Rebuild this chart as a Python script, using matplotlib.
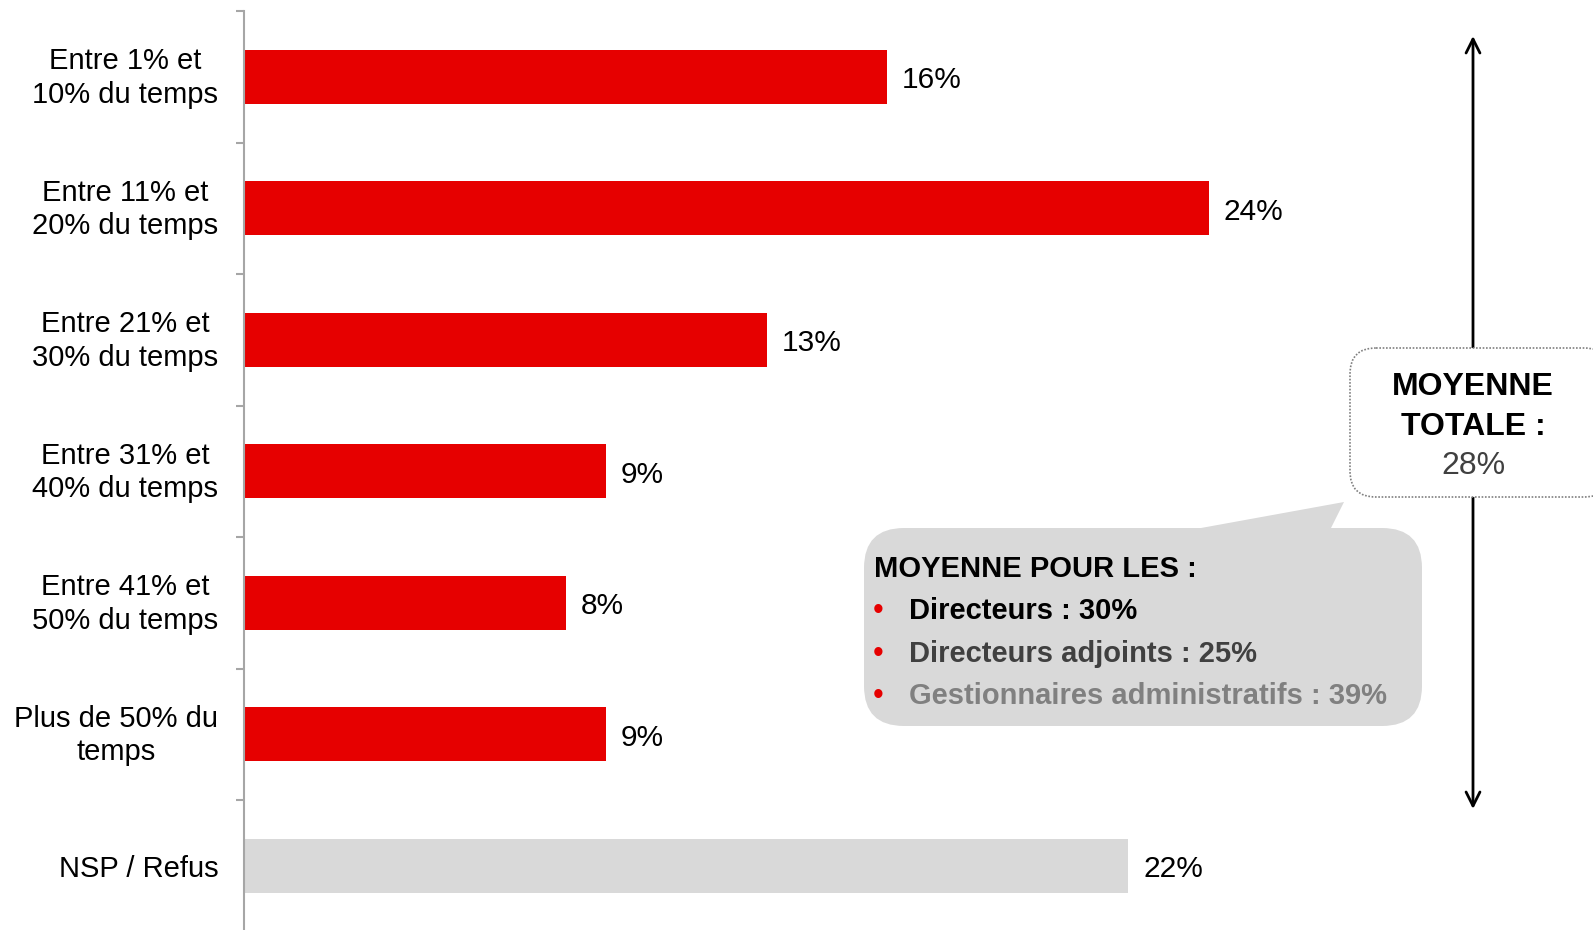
import matplotlib
matplotlib.use("Agg")
import matplotlib.pyplot as plt
import matplotlib.transforms as mtransforms
from matplotlib.patches import FancyBboxPatch, Polygon
import numpy as np

plt.rcParams['font.family'] = ['Liberation Sans', 'DejaVu Sans']

categories = ["Entre 1% et\n10% du temps", "Entre 11% et\n20% du temps", "Entre 21% et\n30% du temps",
              "Entre 31% et\n40% du temps", "Entre 41% et\n50% du temps", "Plus de 50% du\ntemps", "NSP / Refus"]
values = [16, 24, 13, 9, 8, 9, 22]
bar_colors = ["#e60000"] * 6 + ["#d9d9d9"]
total_lines = ["MOYENNE", "TOTALE :"]
total_value = "28%"
callout_title = "MOYENNE POUR LES :"
callout_items = ["Directeurs : 30%", "Directeurs adjoints : 25%", "Gestionnaires administratifs : 39%"]
callout_colors = ["#000000", "#404040", "#808080"]

W, H = 1593, 930
fig = plt.figure(figsize=(W / 100, H / 100), dpi=100)

# main axes: left spine at x=244px, 1% = 40.2px, categories span y=11..931.5px
x0 = 244
pct = 40.2
xmax = 30
top_px, bot_px = 11, 931.5
ax = fig.add_axes([x0 / W, 1 - bot_px / H, xmax * pct / W, (bot_px - top_px) / H])
y = np.arange(len(categories))
ax.barh(y, values, height=0.41, color=bar_colors, zorder=2)
ax.set_xlim(0, xmax)
ax.set_ylim(len(categories) - 0.5, -0.5)
for yi, v in zip(y, values):
    ax.text(v + 0.37, yi + 0.025, f"{v}%", va='center', ha='left', fontsize=21.5, color='#000000')
ax.set_yticks(y)
ax.set_yticklabels(categories, fontsize=21, multialignment='center', linespacing=1.25)
ax.tick_params(axis='y', which='major', length=0, pad=18.5)
up = mtransforms.ScaledTranslation(0, 4.5 / 100, fig.dpi_scale_trans)
for lab in ax.get_yticklabels():
    if "\n" in lab.get_text():
        lab.set_transform(lab.get_transform() + up)
ax.set_yticks(np.arange(-0.5, len(categories) - 0.5, 1), minor=True)
ax.tick_params(axis='y', which='minor', length=6, width=1.5, color='#a6a6a6', direction='out')
ax.set_xticks([])
for s in ['top', 'right', 'bottom']:
    ax.spines[s].set_visible(False)
ax.spines['left'].set_color('#a6a6a6')
ax.spines['left'].set_linewidth(1.5)
ax.set_facecolor('none')

# overlay axes in pixel coordinates
ov = fig.add_axes([0, 0, 1, 1], zorder=5)
ov.set_xlim(0, W)
ov.set_ylim(H, 0)
ov.axis('off')
ov.patch.set_alpha(0)

# double arrow
ov.annotate("", xy=(1473, 36), xytext=(1473, 809),
            arrowprops=dict(arrowstyle='<->,head_length=1.0,head_width=0.5', lw=2, color='black',
                            shrinkA=0, shrinkB=0), zorder=1)

# total box
tb = FancyBboxPatch((1350, 348), 260, 149, boxstyle="round,pad=0,rounding_size=26",
                    facecolor='white', edgecolor='#7f7f7f', lw=1.2, linestyle=(0, (1, 1)), zorder=3)
ov.add_patch(tb)
ov.text(1473, 387, total_lines[0], ha='center', va='center', fontsize=23, fontweight='bold',
        color='black', zorder=4)
ov.text(1473, 427, total_lines[1], ha='center', va='center', fontsize=23, fontweight='bold',
        color='black', zorder=4)
ov.text(1473, 466, total_value, ha='center', va='center', fontsize=23, color='#404040', zorder=4)

# gray callout
cb = FancyBboxPatch((864, 528), 558, 198, boxstyle="round,pad=0,rounding_size=40",
                    facecolor='#d9d9d9', edgecolor='none', zorder=3)
ov.add_patch(cb)
ov.add_patch(Polygon([(1190, 530), (1330, 530), (1344, 502)], closed=True,
                     facecolor='#d9d9d9', edgecolor='none', zorder=3))
ov.text(874, 569, callout_title, ha='left', va='center', fontsize=21, fontweight='bold',
        color='black', zorder=4)
for i, (item, c) in enumerate(zip(callout_items, callout_colors)):
    yy = 611 + i * 42.5
    ov.text(878, yy, "•", ha='center', va='center', fontsize=22, color='#e60000', zorder=4)
    ov.text(909, yy, item, ha='left', va='center', fontsize=21, fontweight='bold', color=c, zorder=4)

fig.savefig("out.png", dpi=100)
